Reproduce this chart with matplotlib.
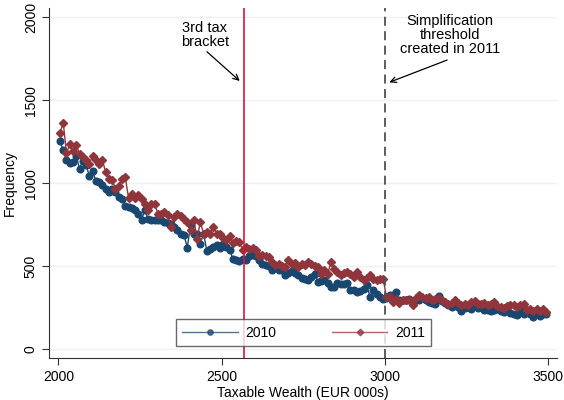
import numpy as np
import matplotlib
matplotlib.use("Agg")
import matplotlib.pyplot as plt

plt.rcParams['font.family'] = ['Liberation Sans', 'DejaVu Sans']

# bin centres (EUR 000s), 10k wide bins from 2000 to 3500
wealth = np.arange(2005, 3500, 10)

freq_2010 = [1254, 1198, 1142, 1124, 1128, 1165, 1088, 1134, 1108, 1046,
             1074, 1013, 1008, 988, 968, 947, 966, 947, 917, 907,
             861, 855, 850, 841, 817, 781, 837, 787,
             777, 781, 781, 778, 767, 758, 755, 737, 721, 697, 688, 613,
             747, 697, 697, 637, 697, 592, 606, 616, 627, 613,
             637, 616, 596, 546, 536, 532, 546, 536, 560,
             566, 560, 536, 516, 506, 500, 476, 496, 476, 480,
             446, 460, 472, 460, 446, 432, 426, 420, 436, 456,
             406, 410, 420, 400, 376, 376, 400, 396, 396, 400,
             360, 356, 345, 350, 366, 386, 315, 360, 336, 315, 305,
             311,
             325, 325, 345, 295, 300, 300, 305, 279, 300, 295,
             311, 300, 285, 280, 276, 319, 290, 280, 265, 255,
             271, 255, 231, 251, 255, 245, 259, 251, 255, 235,
             235, 231, 235, 245, 231, 225, 235, 219, 215, 205,
             235, 211, 225, 215, 195, 215, 199, 215, 212]

freq_2011 = [1303, 1365, 1182, 1235, 1194, 1228, 1178, 1158, 1142, 1118,
             1162, 1142, 1114, 1138, 1068, 1028, 1018, 968, 981, 1028,
             1038, 913, 938, 913, 927, 907, 873, 837,
             873, 877, 817, 817, 827, 807, 737, 797, 813, 801,
             787, 767, 721, 777, 667, 767, 697, 707, 697, 737,
             697, 697, 673, 657, 680, 640, 650, 645, 596, 616, 606, 613,
             600, 560, 566, 560, 556, 526, 506, 516, 500, 496, 536, 516,
             520, 496, 516, 506, 526, 516, 500, 496, 456, 480,
             452, 526, 486, 466, 446, 460, 466, 456, 436, 466,
             436, 416, 432, 446, 426, 416, 426, 426,
             315,
             315, 285, 305, 280, 295, 300, 295, 265, 311, 325,
             315, 311, 315, 295, 305, 311, 300, 285, 276, 280,
             295, 280, 265, 276, 265, 285, 290, 271, 276, 280,
             265, 276, 285, 259, 255, 251, 259, 265, 265, 255,
             265, 276, 235, 241, 231, 241, 231, 241, 225]

bracket_line = 2569
simplif_line = 3000

navy = '#1a476f'
maroon = '#90353b'

fig = plt.figure(figsize=(5.64, 4.0), dpi=100)
ax = fig.add_axes([0.0869, 0.104, 0.9007, 0.876])

ax.set_xlim(1971.5, 3527.6)
ax.set_ylim(-54, 2054)

for yv in [0, 500, 1000, 1500, 2000]:
    ax.axhline(yv, color='#eaf2f3', lw=1, zorder=0)

ax.plot(wealth, freq_2010, color=navy, marker='o', ms=4.8, lw=1,
        mec=navy, label='2010', zorder=3)
ax.plot(wealth, freq_2011, color=maroon, marker='D', ms=4.2, lw=1,
        mec=maroon, label='2011', zorder=4)

ax.axvline(bracket_line, color='#d5173c', lw=1.2, zorder=5)
ax.axvline(simplif_line, color='#505050', lw=1.3, ls=(0, (5, 3)), zorder=5)

ax.text(2449, 1892, '3rd tax\nbracket', ha='center', va='center',
        fontsize=10.5, linespacing=1.0)
ax.annotate('', xy=(2562, 1604), xytext=(2449, 1802),
            arrowprops=dict(arrowstyle='->', color='black', lw=0.9))
ax.text(3199, 1892, 'Simplification\nthreshold\ncreated in 2011',
        ha='center', va='center', fontsize=10.5, linespacing=1.0)
ax.annotate('', xy=(3006, 1601), xytext=(3199, 1747),
            arrowprops=dict(arrowstyle='->', color='black', lw=0.9))

ax.spines['top'].set_visible(False)
ax.spines['right'].set_visible(False)
ax.spines['left'].set_color('#333333')
ax.spines['bottom'].set_color('#333333')

ax.set_xticks([2000, 2500, 3000, 3500])
ax.set_yticks([0, 500, 1000, 1500, 2000])
ax.set_yticklabels(['0', '500', '1000', '1500', '2000'], rotation=90, va='center')
ax.tick_params(labelsize=10, length=5, color='#333333', pad=3)

ax.set_xlabel('Taxable Wealth (EUR 000s)', fontsize=10, labelpad=2)
ax.set_ylabel('Frequency', fontsize=10, labelpad=5)

leg = ax.legend(loc='lower center', bbox_to_anchor=(0.501, 0.016), ncol=2,
                fontsize=10, frameon=True, fancybox=False, edgecolor='#444444',
                handlelength=4.0, columnspacing=4.0, borderpad=0.45,
                handletextpad=0.55, markerscale=0.8)
leg.get_frame().set_linewidth(1)
for h in leg.legend_handles:
    h.set_alpha(0.75)

fig.savefig('out.png', dpi=100)
